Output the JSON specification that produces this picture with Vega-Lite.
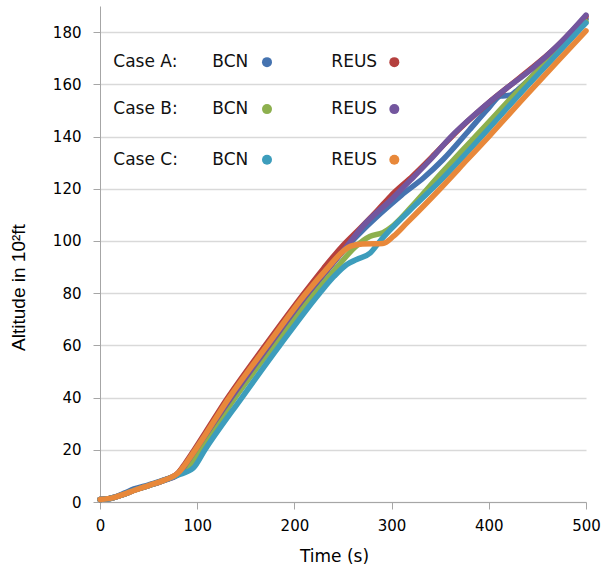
{
  "$schema": "https://vega.github.io/schema/vega-lite/v6.json",
  "width": 486,
  "height": 496,
  "autosize": "none",
  "padding": {"left": 100, "top": 6, "right": 21, "bottom": 72},
  "background": "white",
  "config": {"view": {"stroke": null}, "font": "DejaVu Sans"},
  "datasets": {
    "flights": [
      {"s": "A BCN", "t": 0, "alt": 1.0}, {"s": "A BCN", "t": 8, "alt": 1.2}, {"s": "A BCN", "t": 15, "alt": 1.9}, {"s": "A BCN", "t": 25, "alt": 3.4}, {"s": "A BCN", "t": 35, "alt": 5.0}, {"s": "A BCN", "t": 50, "alt": 6.6}, {"s": "A BCN", "t": 65, "alt": 8.4}, {"s": "A BCN", "t": 78, "alt": 10.3}, {"s": "A BCN", "t": 86, "alt": 13.5}, {"s": "A BCN", "t": 101, "alt": 20.5}, {"s": "A BCN", "t": 136, "alt": 40}, {"s": "A BCN", "t": 175, "alt": 60}, {"s": "A BCN", "t": 215, "alt": 80}, {"s": "A BCN", "t": 233, "alt": 88.5}, {"s": "A BCN", "t": 252, "alt": 97}, {"s": "A BCN", "t": 270, "alt": 104}, {"s": "A BCN", "t": 290, "alt": 111}, {"s": "A BCN", "t": 310, "alt": 117.5}, {"s": "A BCN", "t": 333, "alt": 124.2}, {"s": "A BCN", "t": 353, "alt": 131.2}, {"s": "A BCN", "t": 380, "alt": 142.5}, {"s": "A BCN", "t": 400, "alt": 151}, {"s": "A BCN", "t": 412, "alt": 155.5}, {"s": "A BCN", "t": 422, "alt": 155.8}, {"s": "A BCN", "t": 430, "alt": 158}, {"s": "A BCN", "t": 450, "alt": 165}, {"s": "A BCN", "t": 475, "alt": 175}, {"s": "A BCN", "t": 500, "alt": 185},
      {"s": "A REUS", "t": 0, "alt": 1.0}, {"s": "A REUS", "t": 8, "alt": 1.2}, {"s": "A REUS", "t": 15, "alt": 1.8}, {"s": "A REUS", "t": 25, "alt": 3.0}, {"s": "A REUS", "t": 35, "alt": 4.5}, {"s": "A REUS", "t": 50, "alt": 6.3}, {"s": "A REUS", "t": 65, "alt": 8.2}, {"s": "A REUS", "t": 80, "alt": 11}, {"s": "A REUS", "t": 88, "alt": 15}, {"s": "A REUS", "t": 97, "alt": 20}, {"s": "A REUS", "t": 131.5, "alt": 40}, {"s": "A REUS", "t": 170, "alt": 60}, {"s": "A REUS", "t": 210, "alt": 80}, {"s": "A REUS", "t": 230, "alt": 89.5}, {"s": "A REUS", "t": 248, "alt": 97.5}, {"s": "A REUS", "t": 268, "alt": 105}, {"s": "A REUS", "t": 285, "alt": 111.5}, {"s": "A REUS", "t": 299, "alt": 117.2}, {"s": "A REUS", "t": 322, "alt": 125}, {"s": "A REUS", "t": 345, "alt": 133.5}, {"s": "A REUS", "t": 370, "alt": 143}, {"s": "A REUS", "t": 400, "alt": 153}, {"s": "A REUS", "t": 430, "alt": 162}, {"s": "A REUS", "t": 470, "alt": 174.5}, {"s": "A REUS", "t": 500, "alt": 186},
      {"s": "B BCN", "t": 0, "alt": 1.0}, {"s": "B BCN", "t": 8, "alt": 1.2}, {"s": "B BCN", "t": 15, "alt": 1.8}, {"s": "B BCN", "t": 25, "alt": 3.0}, {"s": "B BCN", "t": 35, "alt": 4.5}, {"s": "B BCN", "t": 50, "alt": 6.3}, {"s": "B BCN", "t": 65, "alt": 8.2}, {"s": "B BCN", "t": 80, "alt": 10.5}, {"s": "B BCN", "t": 92, "alt": 14}, {"s": "B BCN", "t": 103, "alt": 20}, {"s": "B BCN", "t": 139, "alt": 40}, {"s": "B BCN", "t": 179, "alt": 60}, {"s": "B BCN", "t": 221, "alt": 80}, {"s": "B BCN", "t": 245, "alt": 90.5}, {"s": "B BCN", "t": 262, "alt": 97.5}, {"s": "B BCN", "t": 278, "alt": 101.8}, {"s": "B BCN", "t": 291, "alt": 103.2}, {"s": "B BCN", "t": 302, "alt": 106}, {"s": "B BCN", "t": 325, "alt": 115}, {"s": "B BCN", "t": 350, "alt": 125.5}, {"s": "B BCN", "t": 364, "alt": 131.2}, {"s": "B BCN", "t": 395, "alt": 143.5}, {"s": "B BCN", "t": 425, "alt": 155.5}, {"s": "B BCN", "t": 460, "alt": 169}, {"s": "B BCN", "t": 500, "alt": 184},
      {"s": "B REUS", "t": 0, "alt": 1.0}, {"s": "B REUS", "t": 8, "alt": 1.2}, {"s": "B REUS", "t": 15, "alt": 1.8}, {"s": "B REUS", "t": 25, "alt": 3.0}, {"s": "B REUS", "t": 35, "alt": 4.5}, {"s": "B REUS", "t": 50, "alt": 6.3}, {"s": "B REUS", "t": 65, "alt": 8.2}, {"s": "B REUS", "t": 80, "alt": 10.5}, {"s": "B REUS", "t": 90, "alt": 15.5}, {"s": "B REUS", "t": 99, "alt": 20.5}, {"s": "B REUS", "t": 135, "alt": 40}, {"s": "B REUS", "t": 174, "alt": 60}, {"s": "B REUS", "t": 214, "alt": 80}, {"s": "B REUS", "t": 234, "alt": 89}, {"s": "B REUS", "t": 252, "alt": 97}, {"s": "B REUS", "t": 270, "alt": 105.5}, {"s": "B REUS", "t": 300, "alt": 116}, {"s": "B REUS", "t": 320, "alt": 123.5}, {"s": "B REUS", "t": 340, "alt": 131.2}, {"s": "B REUS", "t": 360, "alt": 139.5}, {"s": "B REUS", "t": 388, "alt": 149.2}, {"s": "B REUS", "t": 419, "alt": 158.7}, {"s": "B REUS", "t": 444, "alt": 165.8}, {"s": "B REUS", "t": 474, "alt": 176}, {"s": "B REUS", "t": 500, "alt": 186.5},
      {"s": "C BCN", "t": 0, "alt": 1.0}, {"s": "C BCN", "t": 8, "alt": 1.2}, {"s": "C BCN", "t": 15, "alt": 1.8}, {"s": "C BCN", "t": 25, "alt": 3.0}, {"s": "C BCN", "t": 35, "alt": 4.5}, {"s": "C BCN", "t": 50, "alt": 6.3}, {"s": "C BCN", "t": 65, "alt": 8.2}, {"s": "C BCN", "t": 80, "alt": 10.3}, {"s": "C BCN", "t": 96, "alt": 13}, {"s": "C BCN", "t": 108, "alt": 20}, {"s": "C BCN", "t": 146, "alt": 40}, {"s": "C BCN", "t": 185, "alt": 60}, {"s": "C BCN", "t": 226, "alt": 80}, {"s": "C BCN", "t": 241, "alt": 86.5}, {"s": "C BCN", "t": 254, "alt": 91}, {"s": "C BCN", "t": 264, "alt": 92.9}, {"s": "C BCN", "t": 278, "alt": 95.4}, {"s": "C BCN", "t": 288, "alt": 99.9}, {"s": "C BCN", "t": 299, "alt": 104.4}, {"s": "C BCN", "t": 325, "alt": 114}, {"s": "C BCN", "t": 350, "alt": 123}, {"s": "C BCN", "t": 371, "alt": 131.2}, {"s": "C BCN", "t": 400, "alt": 143}, {"s": "C BCN", "t": 430, "alt": 155.5}, {"s": "C BCN", "t": 465, "alt": 169.5}, {"s": "C BCN", "t": 500, "alt": 183.5},
      {"s": "C REUS", "t": 0, "alt": 1.0}, {"s": "C REUS", "t": 8, "alt": 1.3}, {"s": "C REUS", "t": 15, "alt": 1.8}, {"s": "C REUS", "t": 25, "alt": 3.0}, {"s": "C REUS", "t": 35, "alt": 4.4}, {"s": "C REUS", "t": 50, "alt": 6.3}, {"s": "C REUS", "t": 65, "alt": 8.2}, {"s": "C REUS", "t": 80, "alt": 11}, {"s": "C REUS", "t": 98, "alt": 20}, {"s": "C REUS", "t": 133, "alt": 40}, {"s": "C REUS", "t": 172, "alt": 60}, {"s": "C REUS", "t": 212, "alt": 80}, {"s": "C REUS", "t": 235, "alt": 90}, {"s": "C REUS", "t": 250, "alt": 96}, {"s": "C REUS", "t": 258, "alt": 98}, {"s": "C REUS", "t": 270, "alt": 98.8}, {"s": "C REUS", "t": 291, "alt": 99}, {"s": "C REUS", "t": 302, "alt": 101.8}, {"s": "C REUS", "t": 316, "alt": 107}, {"s": "C REUS", "t": 350, "alt": 120}, {"s": "C REUS", "t": 378, "alt": 131.2}, {"s": "C REUS", "t": 400, "alt": 140}, {"s": "C REUS", "t": 437, "alt": 155.2}, {"s": "C REUS", "t": 470, "alt": 168.5}, {"s": "C REUS", "t": 500, "alt": 180.5}
    ],
    "legendText": [
      {"label": "Case A:", "t": 13.7, "alt": 168.5}, {"label": "BCN", "t": 115.5, "alt": 168.5}, {"label": "REUS", "t": 238, "alt": 168.5},
      {"label": "Case B:", "t": 13.7, "alt": 150.5}, {"label": "BCN", "t": 115.5, "alt": 150.5}, {"label": "REUS", "t": 238, "alt": 150.5},
      {"label": "Case C:", "t": 13.7, "alt": 131.1}, {"label": "BCN", "t": 115.5, "alt": 131.1}, {"label": "REUS", "t": 238, "alt": 131.1}
    ],
    "legendDots": [
      {"s": "A BCN", "t": 171.8, "alt": 168.5}, {"s": "A REUS", "t": 302.8, "alt": 168.5},
      {"s": "B BCN", "t": 171.8, "alt": 150.5}, {"s": "B REUS", "t": 302.8, "alt": 150.5},
      {"s": "C BCN", "t": 171.8, "alt": 131.1}, {"s": "C REUS", "t": 302.8, "alt": 131.1}
    ]
  },
  "layer": [
    {
      "data": {"name": "flights"},
      "mark": {"type": "line", "interpolate": "monotone", "strokeWidth": 5.5, "strokeCap": "round", "strokeJoin": "round"},
      "encoding": {
        "x": {
          "field": "t", "type": "quantitative",
          "scale": {"domain": [0, 500], "nice": false},
          "axis": {
            "title": "Time (s)", "values": [0, 100, 200, 300, 400, 500], "grid": false,
            "domainColor": "#a6a6a6", "tickColor": "#a6a6a6", "tickSize": 7,
            "labelFontSize": 15, "labelPadding": 9, "labelColor": "#000000", "labelFlush": false,
            "titleFontSize": 17, "titleFontWeight": "normal", "titleColor": "#000000",
            "titleX": 234, "titleY": 54, "titleBaseline": "middle"
          }
        },
        "y": {
          "field": "alt", "type": "quantitative",
          "scale": {"domain": [0, 190], "nice": false},
          "axis": {
            "title": "Altitude in 10²ft", "values": [0, 20, 40, 60, 80, 100, 120, 140, 160, 180],
            "grid": true, "gridColor": "#d9d9d9", "gridWidth": 1.5,
            "domainColor": "#a6a6a6", "tickColor": "#a6a6a6", "tickSize": 7,
            "labelFontSize": 15, "labelPadding": 12, "labelColor": "#000000",
            "titleFont": "Liberation Sans", "titleFontSize": 19, "titleFontWeight": "normal", "titleColor": "#000000",
            "titleX": -82, "titleY": 281, "titleAngle": -90, "titleAlign": "center", "titleBaseline": "middle"
          }
        },
        "color": {
          "field": "s", "type": "nominal",
          "scale": {
            "domain": ["A BCN", "A REUS", "B BCN", "B REUS", "C BCN", "C REUS"],
            "range": ["#4573B0", "#B5403E", "#8DB04E", "#73569E", "#3D9DBC", "#E8883A"]
          },
          "legend": null
        }
      }
    },
    {
      "data": {"name": "legendText"},
      "mark": {"type": "text", "align": "left", "baseline": "middle", "fontSize": 17, "font": "DejaVu Sans", "color": "#111111"},
      "encoding": {
        "x": {"field": "t", "type": "quantitative"},
        "y": {"field": "alt", "type": "quantitative"},
        "text": {"field": "label", "type": "nominal"}
      }
    },
    {
      "data": {"name": "legendDots"},
      "mark": {"type": "point", "filled": true, "size": 100, "opacity": 1},
      "encoding": {
        "x": {"field": "t", "type": "quantitative"},
        "y": {"field": "alt", "type": "quantitative"},
        "color": {"field": "s", "type": "nominal", "legend": null}
      }
    }
  ]
}
